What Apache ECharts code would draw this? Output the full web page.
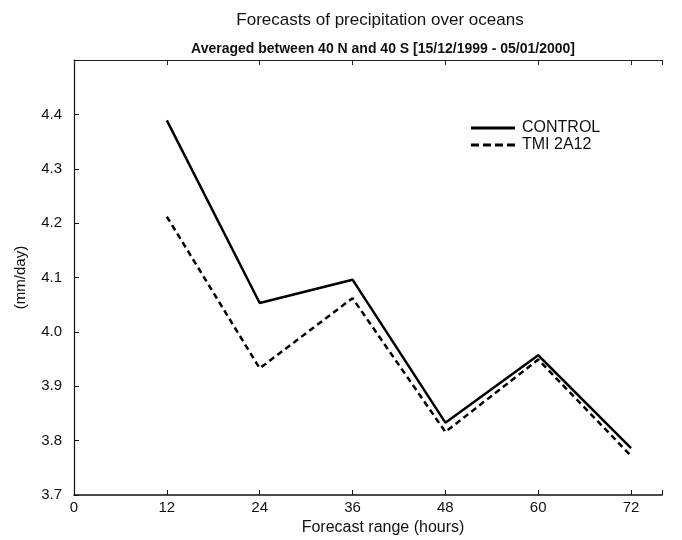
<!DOCTYPE html>
<html>
<head>
<meta charset="utf-8">
<script src="https://cdn.jsdelivr.net/npm/echarts@6/dist/echarts.min.js"></script>
<style>
  html, body { margin: 0; padding: 0; background: #fff; }
  #chart { width: 682px; height: 540px; }
</style>
</head>
<body>
<div id="chart"></div>
<script>
// forecast range (hours)
const hours = [12, 24, 36, 48, 60, 72];
const control = [4.389, 4.053, 4.096, 3.833, 3.957, 3.786];
const tmi2a12 = [4.212, 3.933, 4.062, 3.816, 3.949, 3.772];

const font = 'Liberation Sans, Arial, sans-serif';

// legend line samples
const solidIcon = 'path://M0,0h44v3h-44z';
const dashIcon = 'path://M0,0h8v3h-8z M12,0h8v3h-8z M24,0h8v3h-8z M36,0h8v3h-8z';

const chart = echarts.init(document.getElementById('chart'));

chart.setOption({
    backgroundColor: '#fff',
    animation: false,
    title: [
        {
            text: 'Forecasts of precipitation over oceans',
            left: 375, top: 7, textAlign: 'center',
            textStyle: { fontFamily: font, fontSize: 17, fontWeight: 'normal', color: '#111' }
        },
        {
            text: 'Averaged between 40 N and 40 S [15/12/1999 - 05/01/2000]',
            left: 378, top: 37, textAlign: 'center',
            textStyle: { fontFamily: font, fontSize: 14, fontWeight: 'bold', color: '#111' }
        }
    ],
    legend: {
        left: 466, top: 115, orient: 'vertical',
        itemWidth: 44, itemHeight: 3, itemGap: 1,
        itemStyle: { color: '#000' },
        textStyle: { fontFamily: font, fontSize: 16, color: '#111', padding: [0, 0, 0, 2] },
        data: [
            { name: 'CONTROL', icon: solidIcon },
            { name: 'TMI 2A12', icon: dashIcon }
        ]
    },
    grid: { left: 74, right: 20, top: 60, bottom: 45, outerBoundsMode: 'none' },
    xAxis: [
        {
            type: 'value', min: 0, max: 76, interval: 12,
            name: 'Forecast range (hours)', nameLocation: 'middle', nameGap: 24,
            nameTextStyle: { fontFamily: font, fontSize: 16, color: '#111', padding: [0, 0, 0, 30] },
            axisLine: { lineStyle: { color: '#111', width: 1.5 } },
            axisTick: { inside: true, length: 5, lineStyle: { color: '#111' } },
            axisLabel: {
                fontFamily: font, fontSize: 15, color: '#111', margin: 5,
                formatter: v => (v % 12 === 0 ? String(v) : '')
            },
            splitLine: { show: false }
        },
        {
            type: 'value', position: 'top', min: 0, max: 76, interval: 12,
            axisLine: { lineStyle: { color: '#222', width: 1.2 } },
            axisTick: { inside: true, length: 5, lineStyle: { color: '#222' } },
            axisLabel: { show: false },
            splitLine: { show: false }
        }
    ],
    yAxis: {
        type: 'value', min: 3.7, max: 4.5, interval: 0.1,
        name: '(mm/day)', nameLocation: 'middle', nameGap: 38, nameRotate: 90,
        nameTextStyle: { fontFamily: font, fontSize: 15, color: '#111', padding: [0, 0, 8, 0] },
        axisLine: { show: true, lineStyle: { color: '#111', width: 1.2 } },
        axisTick: { inside: true, length: 5, lineStyle: { color: '#111' } },
        axisLabel: {
            fontFamily: font, fontSize: 15, color: '#111', margin: 12,
            formatter: v => (v > 4.45 ? '' : v.toFixed(1))
        },
        splitLine: { show: false }
    },
    series: [
        {
            name: 'CONTROL', type: 'line', symbol: 'none',
            data: hours.map((h, i) => [h, control[i]]),
            lineStyle: { color: '#000', width: 2.5, type: 'solid' },
            itemStyle: { color: '#000' }
        },
        {
            name: 'TMI 2A12', type: 'line', symbol: 'none',
            data: hours.map((h, i) => [h, tmi2a12[i]]),
            lineStyle: { color: '#000', width: 2.5, type: [6, 4] },
            itemStyle: { color: '#000' }
        }
    ]
});
</script>
</body>
</html>
